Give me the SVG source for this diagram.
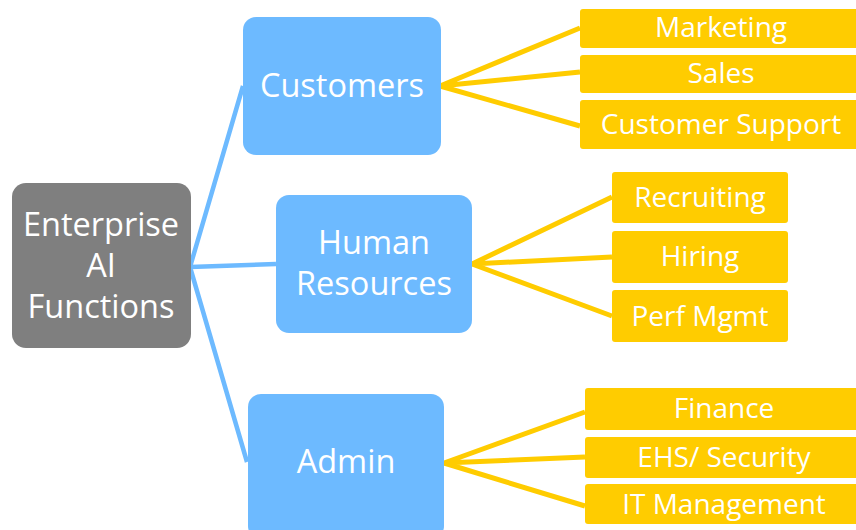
<svg xmlns="http://www.w3.org/2000/svg" width="856" height="530" viewBox="0 0 856 530">
<style>
text{font-family:"Open Sans","Noto Sans","Liberation Sans",sans-serif;fill:#fff;text-anchor:middle}
.root{fill:#7f7f7f}
.mid{fill:#6dbaff}
.leaf{fill:#ffcc00}
.big{font-size:32.5px}
.sm{font-size:28px}
.bl{stroke:#6dbaff;stroke-width:4.5;fill:none}
.yl{stroke:#ffcc00;stroke-width:5;fill:none}
</style>
<rect width="856" height="530" fill="#fff"/>
<g id="connectors">
<path class="bl" d="M190,267 L243,86 M190,267 L276,264 M190,267 L247,462"/>
<path class="yl" d="M440,86 L580,28 M440,86 L580,72 M440,86 L580,126"/>
<path class="yl" d="M472,264 L612,197 M472,264 L612,257 M472,264 L612,316"/>
<path class="yl" d="M444,463 L585,412 M444,463 L585,457 M444,463 L585,506"/>
</g>
<g id="root"><rect class="root" x="12" y="183" width="179" height="165" rx="14"/>
<text class="big" x="101" y="236">Enterprise</text><text class="big" x="101" y="277">AI</text><text class="big" x="101" y="318">Functions</text></g>
<g id="customers"><rect class="mid" x="243" y="17" width="198" height="138" rx="13"/><text class="big" x="342" y="97">Customers</text></g>
<g id="hr"><rect class="mid" x="276" y="195" width="196" height="138" rx="13"/><text class="big" x="374" y="254">Human</text><text class="big" x="374" y="295">Resources</text></g>
<g id="admin"><rect class="mid" x="248" y="394" width="196" height="145" rx="13"/><text class="big" x="346" y="473">Admin</text></g>
<g id="marketing"><rect class="leaf" x="580" y="9" width="285" height="39" rx="3"/><text class="sm" x="721" y="37">Marketing</text></g>
<g id="sales"><rect class="leaf" x="580" y="55" width="285" height="38" rx="3"/><text class="sm" x="721" y="83">Sales</text></g>
<g id="support"><rect class="leaf" x="580" y="100" width="285" height="49" rx="3"/><text class="sm" x="721" y="134">Customer Support</text></g>
<g id="recruiting"><rect class="leaf" x="612" y="172" width="176" height="51" rx="3"/><text class="sm" x="700" y="207">Recruiting</text></g>
<g id="hiring"><rect class="leaf" x="612" y="231" width="176" height="52" rx="3"/><text class="sm" x="700" y="266">Hiring</text></g>
<g id="perf"><rect class="leaf" x="612" y="290" width="176" height="52" rx="3"/><text class="sm" x="700" y="326">Perf Mgmt</text></g>
<g id="finance"><rect class="leaf" x="585" y="388" width="280" height="42" rx="3"/><text class="sm" x="724" y="418">Finance</text></g>
<g id="ehs"><rect class="leaf" x="585" y="437" width="280" height="41" rx="3"/><text class="sm" x="724" y="467">EHS/ Security</text></g>
<g id="it"><rect class="leaf" x="585" y="484" width="280" height="40" rx="3"/><text class="sm" x="724" y="514">IT Management</text></g>
</svg>
